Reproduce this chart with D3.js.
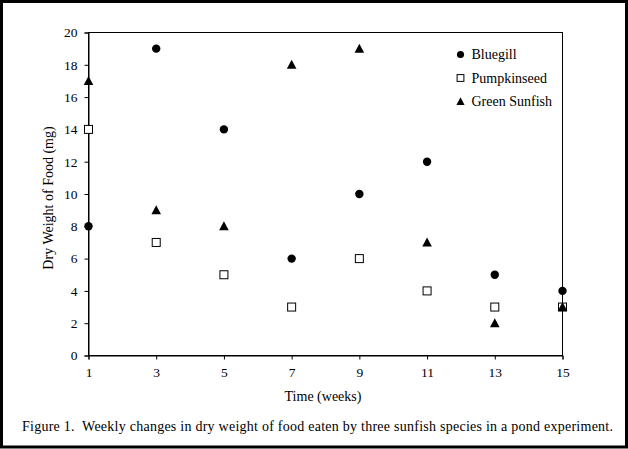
<!DOCTYPE html>
<html><head><meta charset="utf-8">
<script src="https://cdn.jsdelivr.net/npm/d3@7"></script>
<style>body{margin:0;background:#fff;}svg{display:block;}</style>
</head><body><svg id="c" width="628" height="449"></svg>
<script>
const weeks = [1,3,5,7,9,11,13,15];
const bluegill = [8,19,14,6,10,12,5,4];
const pumpkinseed = [14,7,5,3,6,4,3,3];
const greenSunfish = [17,9,8,18,19,7,2,3];
const seriesNames = ["Bluegill","Pumpkinseed","Green Sunfish"];
const yTicks = [0,2,4,6,8,10,12,14,16,18,20];
const xTicks = [1,3,5,7,9,11,13,15];

const svg = d3.select("#c");
const font = "'Liberation Serif','Times New Roman',serif";
svg.append("rect").attr("x",1.5).attr("y",1.5).attr("width",625).attr("height",445.5)
  .attr("fill","#fff").attr("stroke","#000").attr("stroke-width",3);

const L=88.5,R=562.5,T=32.5,B=355.5;
const x = d3.scaleLinear().domain([1,15]).range([L,R]);
const y = d3.scaleLinear().domain([0,20]).range([B,T]);

svg.append("rect").attr("x",L).attr("y",T).attr("width",R-L).attr("height",B-T)
  .attr("fill","none").attr("stroke","#000").attr("stroke-width",1);

const ya = svg.append("g").attr("transform",`translate(${L},0)`)
  .call(d3.axisLeft(y).tickValues(yTicks).tickSize(4).tickPadding(7).tickFormat(d3.format("d")));
const xa = svg.append("g").attr("transform",`translate(0,${B})`)
  .call(d3.axisBottom(x).tickValues(xTicks).tickSize(4).tickPadding(8).tickFormat(d3.format("d")));
[ya,xa].forEach(a=>{
  a.selectAll("text").attr("font-family",font).attr("font-size","13.5px").attr("fill","#000");
  a.select(".domain").attr("stroke","#000");
  a.selectAll("line").attr("stroke","#000");
});

svg.append("text").attr("transform","translate(53,198) rotate(-90)").attr("text-anchor","middle")
  .attr("font-family",font).attr("font-size","14px").text("Dry Weight of Food (mg)");
svg.append("text").attr("x",323).attr("y",401).attr("text-anchor","middle")
  .attr("font-family",font).attr("font-size","14px").text("Time (weeks)");
svg.append("text").attr("x",22).attr("y",431)
  .attr("font-family",font).attr("font-size","14px")
  .attr("textLength",591).attr("lengthAdjust","spacing")
  .style("white-space","pre")
  .text("Figure 1.  Weekly changes in dry weight of food eaten by three sunfish species in a pond experiment.");

function marker(g, type, s){
  if(type===0) g.append("circle").attr("r",4.2*s).attr("fill","#000");
  else if(type===1) g.append("rect").attr("x",-4*s).attr("y",-4*s).attr("width",8*s).attr("height",8*s).attr("fill","#fff").attr("stroke","#000").attr("stroke-width",1);
  else g.append("path").attr("d",`M0,${-5*s}L${4.8*s},${4*s}L${-4.8*s},${4*s}Z`).attr("fill","#000");
}
const data = [bluegill,pumpkinseed,greenSunfish];
data.forEach((vals,si)=>{
  weeks.forEach((w,i)=>{
    const g = svg.append("g").attr("transform",`translate(${x(w)},${y(vals[i])})`);
    marker(g,si,1);
  });
});

const leg = svg.append("g");
seriesNames.forEach((n,i)=>{
  const yy = 54.5 + i*23.5;
  const g = leg.append("g").attr("transform",`translate(460.5,${yy})`);
  marker(g,i,0.85);
  leg.append("text").attr("x",471.5).attr("y",yy+4.5).attr("font-family",font).attr("font-size","14px").text(n);
});
</script></body></html>
